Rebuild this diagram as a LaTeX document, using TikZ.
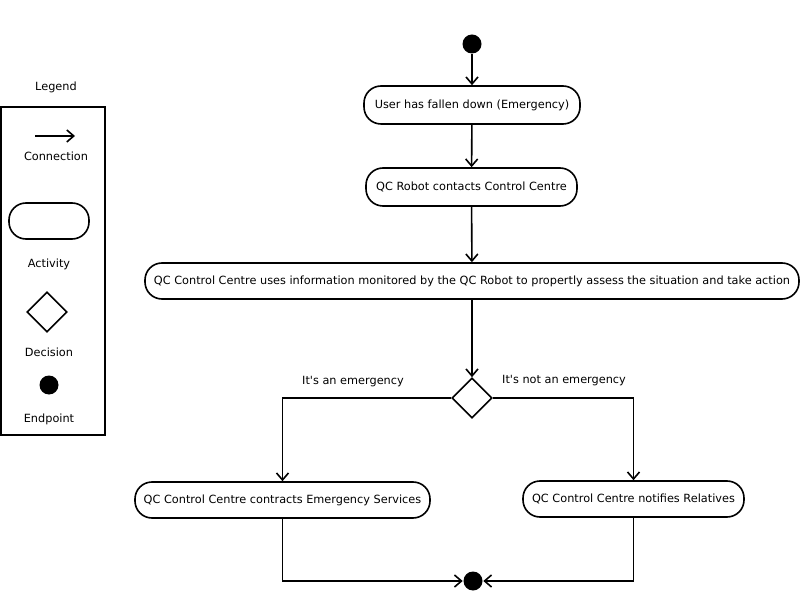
\documentclass[tikz,border=0pt]{standalone}
\usepackage{fontspec}
\setmainfont{DejaVu Sans}
\usetikzlibrary{arrows.meta,shapes.geometric}
\begin{document}
\begin{tikzpicture}[x=1pt,y=-1pt,
  font=\fontsize{11.3}{13}\selectfont,
  line width=1.6pt,
  conn/.style={-{Straight Barb[length=7pt,width=12pt,line width=1.6pt]}},
  activity/.style={draw,rounded corners=17pt,inner sep=0pt,align=center},
  decision/.style={draw,diamond,minimum width=40pt,minimum height=40pt,inner sep=0pt},
  endpoint/.style={circle,fill=black,inner sep=0pt,minimum size=19pt},
  lbl/.style={inner sep=0pt}
]
\useasboundingbox (0,0) rectangle (800,593);
% main flow
\node[endpoint] (start) at (472,44) {};
\node[activity,minimum width=216pt,minimum height=38pt] (a1) at (472,105) {User has fallen down (Emergency)};
\node[activity,minimum width=211pt,minimum height=38pt] (a2) at (471.5,187) {QC Robot contacts Control Centre};
\node[activity,minimum width=654pt,minimum height=36pt] (a3) at (472,281) {QC Control Centre uses information monitored by the QC Robot to propertly assess the situation and take action};
\node[decision] (dec) at (472,398) {};
\node[activity,minimum width=295pt,minimum height=36pt] (a4) at (282.5,500) {QC Control Centre contracts Emergency Services};
\node[activity,minimum width=221pt,minimum height=36pt] (a5) at (633.5,499) {QC Control Centre notifies Relatives};
\node[endpoint] (end) at (473,581) {};
\node[lbl] (l1) at (353,382) {It\textquotesingle s an emergency};
\node[lbl] (l2) at (564,381) {It\textquotesingle s not an emergency};

\draw[conn] (start) -- (a1);
\draw[conn] (a1) -- (a2);
\draw[conn] (a2) -- (a3);
\draw[conn] (a3) -- (dec);
\draw[conn] (dec.west) -| (a4.north);
\draw[conn] (dec.east) -| (a5.north);
\draw[conn] (a4.south) |- (end);
\draw[conn] (a5.south) |- (end);

% legend
\node[lbl] (legtitle) at (56,87) {Legend};
\node[draw,minimum width=104pt,minimum height=328pt,inner sep=0pt] (legbox) at (53,271) {};
\coordinate (la) at (35,136);
\coordinate (lb) at (75,136);
\draw[conn] (la) -- (lb);
\node[lbl] (lconn) at (56,156) {Connection};
\node[activity,minimum width=80pt,minimum height=36pt] (lact) at (49,221) {};
\node[lbl] (lacttext) at (49,264) {Activity};
\node[decision] (ldec) at (47,312) {};
\node[lbl] (ldectext) at (49,352) {Decision};
\node[endpoint] (lend) at (49,385) {};
\node[lbl] (lendtext) at (49,419) {Endpoint};
\end{tikzpicture}
\end{document}
